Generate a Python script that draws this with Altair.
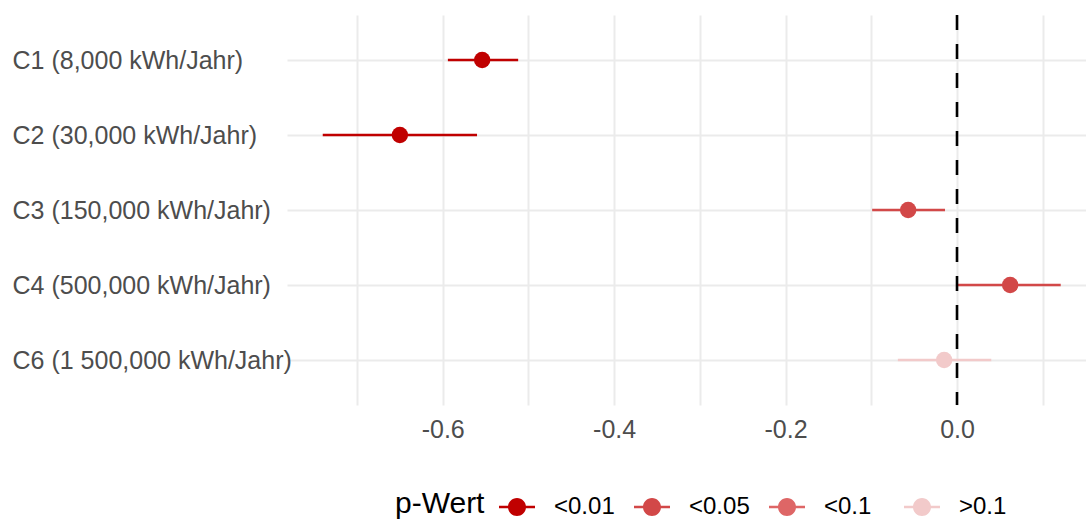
import altair as alt
import pandas as pd

# Coefficients per consumption class with 95% confidence bounds
labels = [
    "C1 (8,000 kWh/Jahr)",
    "C2 (30,000 kWh/Jahr)",
    "C3 (150,000 kWh/Jahr)",
    "C4 (500,000 kWh/Jahr)",
    "C6 (1 500,000 kWh/Jahr)",
]
estimates = [-0.554, -0.650, -0.057, 0.062, -0.015]
ci_low = [-0.594, -0.740, -0.099, 0.001, -0.069]
ci_high = [-0.512, -0.560, -0.014, 0.121, 0.040]
p_class = ["<0.01", "<0.01", "<0.05", "<0.05", ">0.1"]

p_levels = ["<0.01", "<0.05", "<0.1", ">0.1"]
p_colors = ["#C00000", "#D24848", "#DE6666", "#F2CACA"]

x_grid_values = [-0.7, -0.6, -0.5, -0.4, -0.3, -0.2, -0.1, 0.0, 0.1]

df = pd.DataFrame({
    "label": labels,
    "estimate": estimates,
    "lo": ci_low,
    "hi": ci_high,
    "p": p_class,
})

FONT = "Liberation Sans"
GRID = "#EBEBEB"
TEXT = "#4D4D4D"

x_scale = alt.Scale(domain=[-0.7817, 0.1505], nice=False, zero=False)
y_scale = alt.Scale(type="point", padding=0.6, domain=labels)
color_scale = alt.Scale(domain=p_levels, range=p_colors)

# pointrange-style legend glyph: a bar with a dot in the middle
glyph = ("M-1,-0.075H1V0.075H-1Z "
         "M-0.5,0A0.5,0.5 0 1,1 0.5,0A0.5,0.5 0 1,1 -0.5,0Z")

x_axis = alt.Axis(
    values=x_grid_values,
    labelExpr="(abs(round(datum.value * 10)) % 2 == 0) ? "
              "((datum.value < -0.001 ? '-' : '') + format(abs(datum.value), '.1f')) : ''",
    title=None,
    domain=False,
    ticks=False,
    tickSize=0,
    grid=True,
    gridColor=GRID,
    gridWidth=2,
    labelFont=FONT,
    labelFontSize=25,
    labelColor=TEXT,
    labelPadding=12,
)

y_axis = alt.Axis(
    title=None,
    domain=False,
    ticks=False,
    tickSize=0,
    grid=True,
    gridColor=GRID,
    gridWidth=2,
    labelFont=FONT,
    labelFontSize=25,
    labelColor=TEXT,
    labelAlign="left",
    labelPadding=275,
    labelLimit=400,
)

p_legend = alt.Legend(
    title="p-Wert",
    orient="none",
    legendX=108,
    legendY=474,
    direction="horizontal",
    titleOrient="left",
    titleFont=FONT,
    titleFontSize=30,
    titleFontWeight="normal",
    titleColor="black",
    titlePadding=14,
    labelFont=FONT,
    labelFontSize=24,
    labelColor="black",
    labelOffset=19,
    columnPadding=19,
    gridAlign="all",
    symbolType=glyph,
    symbolSize=1296,
    symbolStrokeWidth=0,
    symbolOpacity=1,
)

base = alt.Chart(df)

ci = base.mark_rule(strokeWidth=2.6, opacity=1).encode(
    x=alt.X("lo:Q", scale=x_scale, axis=x_axis),
    x2="hi:Q",
    y=alt.Y("label:N", scale=y_scale, axis=y_axis, sort=labels),
    color=alt.Color("p:N", scale=color_scale, legend=None),
)

pts = base.mark_point(filled=True, size=270, opacity=1, shape="circle").encode(
    x=alt.X("estimate:Q", scale=x_scale),
    y=alt.Y("label:N", scale=y_scale, sort=labels),
    color=alt.Color("p:N", scale=color_scale, legend=p_legend),
)

zero_line = alt.Chart(pd.DataFrame({"v": [0.0]})).mark_rule(
    color="black", strokeWidth=2.6, strokeDash=[15, 14]
).encode(x=alt.X("v:Q", scale=x_scale))

chart = (
    alt.layer(ci, pts, zero_line)
    .resolve_legend(color="independent")
    .properties(
        width=799,
        height=390,
        autosize=alt.AutoSizeParams(type="none"),
        padding={"left": 287, "top": 15, "right": 0, "bottom": 115},
        background="white",
    )
    .configure_view(stroke=None)
)

chart.save("out.html", embed_options={"renderer": "svg", "actions": False})
